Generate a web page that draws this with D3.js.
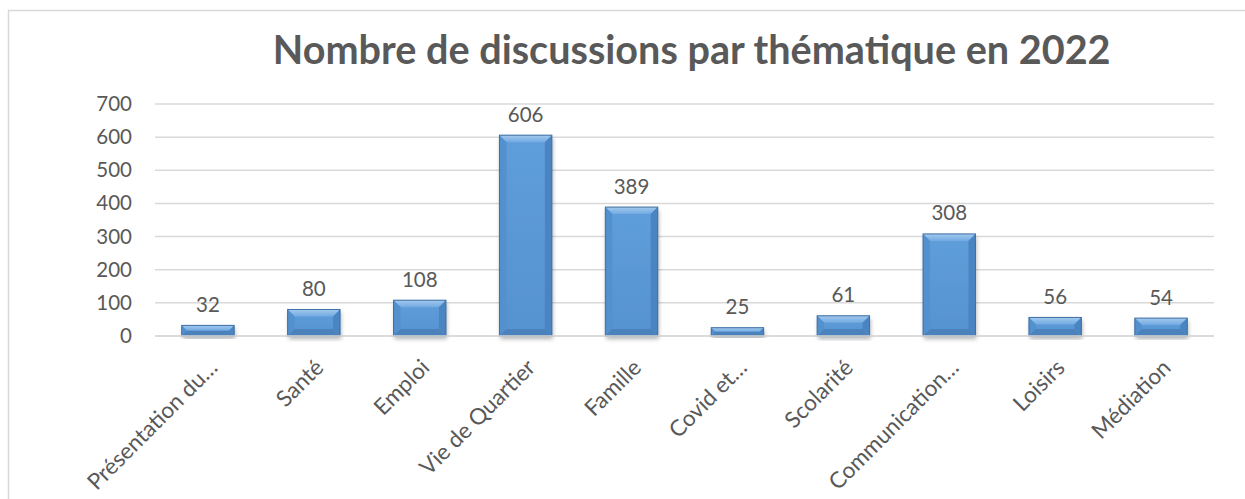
<!DOCTYPE html>
<html><head><meta charset="utf-8">
<script src="https://cdn.jsdelivr.net/npm/d3@7"></script>
<style>html,body{margin:0;padding:0;background:#fff;}svg{display:block;}</style>
</head><body><svg id="c" width="1245" height="499"></svg>
<script>
const title = "Nombre de discussions par thématique en 2022";
const categories = ["Présentation du…","Santé","Emploi","Vie de Quartier","Famille","Covid et…","Scolarité","Communication…","Loisirs","Médiation"];
const values = [32,80,108,606,389,25,61,308,56,54];
const yTicks = [0,100,200,300,400,500,600,700];

(function(){
const svg = d3.select("#c");
const FONT = "Lato, 'Open Sans', 'Liberation Sans', sans-serif";
const TXT = "#595959";
const W = 1245, H = 499;
const pL = 155, pR = 1214, pT = 104, pB = 336;

svg.append("rect").attr("x",8.5).attr("y",10.5).attr("width",W).attr("height",H)
  .attr("fill","#fff").attr("stroke","#D9D9D9").attr("stroke-width",1.5);

const defs = svg.append("defs");
const f = defs.append("filter").attr("id","sh").attr("x","-20%").attr("y","-20%").attr("width","140%").attr("height","140%");
f.append("feDropShadow").attr("dx",1).attr("dy",3).attr("stdDeviation",2).attr("flood-color","#000").attr("flood-opacity",0.3);
const gFace = defs.append("linearGradient").attr("id","face").attr("x1",0).attr("x2",0).attr("y1",0).attr("y2",1);
gFace.append("stop").attr("offset","0%").attr("stop-color","#5E9EDA");
gFace.append("stop").attr("offset","100%").attr("stop-color","#5692D0");
const gTop = defs.append("linearGradient").attr("id","topb").attr("x1",0).attr("x2",0).attr("y1",0).attr("y2",1);
gTop.append("stop").attr("offset","0%").attr("stop-color","#A3C9EE");
gTop.append("stop").attr("offset","100%").attr("stop-color","#72AAE2");

const x = d3.scaleBand().domain(categories).range([pL,pR]).paddingInner(0.505).paddingOuter(0.2525);
const y = d3.scaleLinear().domain([0,700]).range([pB,pT]);

svg.append("g").selectAll("line").data(yTicks).join("line")
  .attr("x1",pL).attr("x2",pR).attr("y1",d=>y(d)).attr("y2",d=>y(d))
  .attr("stroke","#D9D9D9").attr("stroke-width",1.5);

const yAxis = d3.axisLeft(y).tickValues(yTicks).tickSize(0).tickPadding(0);
const ya = svg.append("g").attr("transform",`translate(${pL-23},0)`).call(yAxis);
ya.select(".domain").remove();
ya.selectAll("text").attr("font-family",FONT).attr("font-size",20.5).attr("fill",TXT);

const bars = svg.append("g").selectAll("g").data(categories).join("g");
bars.each(function(c,i){
  const g = d3.select(this);
  const x0 = x(c), w = x.bandwidth(), y0 = y(values[i]), h = y(0)-y(values[i]);
  const b = Math.min(7, h/2);
  g.append("rect").attr("x",x0).attr("y",y0).attr("width",w).attr("height",h)
    .attr("fill","url(#face)").attr("filter","url(#sh)");
  g.append("polygon").attr("points",[[x0,y0],[x0+w,y0],[x0+w-b,y0+b],[x0+b,y0+b]].join(" ")).attr("fill","url(#topb)");
  g.append("polygon").attr("points",[[x0,y0],[x0+b,y0+b],[x0+b,y0+h-b],[x0,y0+h]].join(" ")).attr("fill","#5390CE");
  g.append("polygon").attr("points",[[x0+w,y0],[x0+w-b,y0+b],[x0+w-b,y0+h-b],[x0+w,y0+h]].join(" ")).attr("fill","#4A85C2");
  g.append("polygon").attr("points",[[x0,y0+h],[x0+b,y0+h-b],[x0+w-b,y0+h-b],[x0+w,y0+h]].join(" ")).attr("fill","#4B82BC");
  g.append("rect").attr("x",x0).attr("y",y0).attr("width",w).attr("height",h)
    .attr("fill","none").attr("stroke","#3F6FA3").attr("stroke-width",1);
});

svg.append("line").attr("x1",pL).attr("x2",pR).attr("y1",pB).attr("y2",pB)
  .attr("stroke","#D9D9D9").attr("stroke-width",1.5);

svg.append("g").selectAll("text").data(categories).join("text")
  .attr("x",c=>x(c)+x.bandwidth()/2).attr("y",(c,i)=>y(values[i])-13.5)
  .attr("text-anchor","middle").attr("font-family",FONT).attr("font-size",20.5).attr("fill",TXT)
  .text((c,i)=>values[i]);

svg.append("g").selectAll("text").data(categories).join("text")
  .attr("transform",c=>`translate(${x(c)+x.bandwidth()/2+11},${pB+33}) rotate(-45)`)
  .attr("text-anchor","end").attr("font-family",FONT).attr("font-size",22.5).attr("fill",TXT)
  .text(c=>c);

const t = svg.append("text").attr("x",(272.7+1110.7)/2).attr("y",64.3).attr("text-anchor","middle")
  .attr("font-family",FONT).attr("font-weight","bold").attr("font-size",36).attr("fill",TXT).text(title);
const tw = t.node().getComputedTextLength();
t.attr("font-size", 36*838/tw);
})();
</script></body></html>
